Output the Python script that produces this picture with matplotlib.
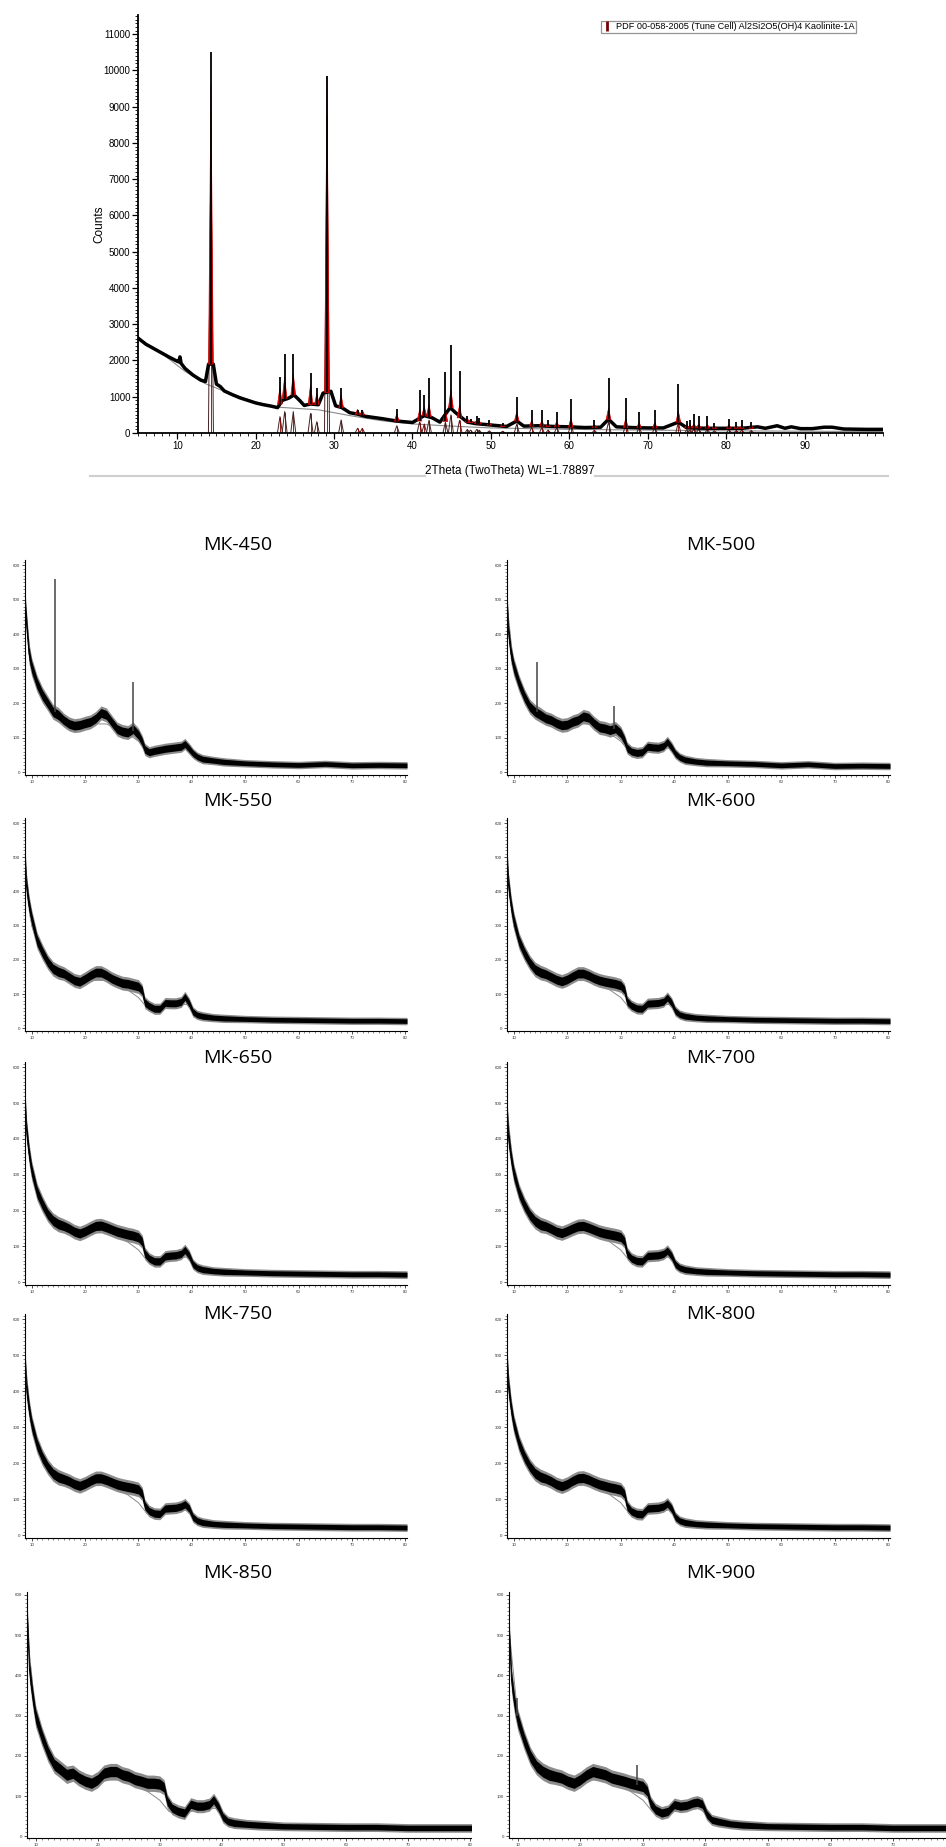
import numpy as np
import matplotlib
matplotlib.use("Agg")
import matplotlib.pyplot as plt
from matplotlib.collections import PolyCollection
from matplotlib.lines import Line2D
from matplotlib.ticker import MultipleLocator

plt.rcParams['font.family'] = ['Liberation Sans', 'DejaVu Sans']

# ---------------- data: top XRD pattern (raw kaolin) ----------------
obs_x = [5, 6, 7, 8, 9, 10, 10.2, 10.35, 10.5, 11, 12, 13, 13.6, 14.0, 14.6, 15, 15.5, 16, 17, 18,
         19, 20, 21, 22, 22.8, 23.4, 24.2, 24.9, 25.6, 26.2, 27, 28, 28.6, 29.6, 30.2, 31, 32, 33, 34, 36,
         38, 40, 41.5, 42.5, 43.5, 44.8, 45.5, 46.3, 47, 48, 50, 52, 53.3, 54.2, 56, 58, 60, 62, 64, 65,
         66, 68, 70, 72, 73.9, 75, 78, 82, 84, 85, 86.5, 87.5, 88.3, 89.5, 91, 92.5, 93.5, 95, 98, 100]
obs_y = [2620, 2450, 2330, 2210, 2090, 1980, 1960, 2100, 1920, 1780, 1600, 1460, 1420, 1900, 1900, 1350, 1280, 1160, 1060, 970,
         900, 830, 780, 740, 700, 900, 960, 1050, 900, 760, 800, 780, 1100, 1150, 750, 700, 560, 520, 460, 400,
         330, 290, 480, 420, 300, 700, 560, 420, 300, 260, 220, 180, 330, 190, 200, 180, 170, 150, 160, 380,
         170, 150, 140, 140, 300, 140, 130, 130, 170, 130, 200, 130, 170, 120, 120, 160, 160, 110, 100, 100]
bg_x = [5, 8, 11, 13.5, 16, 20, 23, 28, 32, 36, 40, 45, 50, 60, 70, 80, 90, 100]
bg_y = [2620, 2200, 1700, 1370, 1150, 850, 710, 640, 480, 340, 250, 190, 140, 100, 80, 60, 50, 40]

kao_pos = [14.3, 23.1, 23.7, 24.8, 27.0, 27.8, 29.1, 30.9, 33.0, 33.6, 38.0, 40.9, 41.5, 42.1, 44.2,
           44.9, 46.0, 47.0, 47.4, 48.2, 48.5, 49.8, 51.5, 53.3, 55.2, 56.5, 57.3, 58.4, 60.2, 63.2,
           65.0, 67.2, 68.9, 70.9, 73.9, 75.0, 75.4, 75.9, 76.5, 77.6, 78.5, 80.35, 81.3, 82.0, 83.2]
obs_top = [10500, 1540, 2190, 2190, 1660, 1230, 9850, 1240, 640, 640, 660, 1180, 1040, 1530, 1670,
           2440, 1700, 480, 390, 470, 400, 350, 270, 1000, 630, 630, 360, 570, 930, 360,
           1530, 960, 580, 640, 1365, 330, 360, 530, 475, 460, 270, 385, 300, 350, 300]
obs_base = [1900, 800, 950, 1050, 790, 780, 1120, 700, 520, 500, 330, 330, 480, 450, 320,
            700, 420, 300, 290, 260, 250, 220, 180, 330, 190, 190, 180, 170, 160, 150,
            380, 150, 145, 140, 300, 140, 140, 140, 140, 135, 130, 130, 130, 130, 130]
kao_calc = [7700, 450, 590, 590, 540, 310, 8700, 360, 130, 130, 200, 300, 250, 350, 300,
            500, 350, 100, 80, 100, 80, 60, 50, 250, 150, 150, 80, 150, 250, 80,
            300, 250, 150, 150, 300, 80, 80, 120, 110, 100, 60, 100, 70, 80, 70]
top_yticks = list(range(0, 11001, 1000))
top_xticks = [10, 20, 30, 40, 50, 60, 70, 80, 90]
legend_label = 'PDF 00-058-2005 (Tune Cell) Al2Si2O5(OH)4 Kaolinite-1A'
top_xlabel = '2Theta (TwoTheta) WL=1.78897'
top_ylabel = 'Counts'

# ---------------- data: calcined samples (МК) ----------------
sx = [8.7, 9, 9.5, 10, 11, 12, 13, 14, 15, 16, 17, 18, 19, 20, 21, 22, 23, 24, 25, 26,
      27, 28, 29, 30, 30.7, 31.2, 32, 33, 34, 35, 36, 37, 38, 38.7, 39.5, 40.2, 41, 42, 44, 46,
      50, 55, 60, 65, 70, 75, 80.3]
noise_half = [25, 25, 22, 20, 18, 17, 16, 16, 16, 15, 15, 15, 15, 15, 15, 15, 15, 15, 15, 15,
              15, 15, 15, 15, 14, 13, 12, 12, 12, 12, 12, 12, 12, 12, 12, 11, 10, 10, 9, 9,
              8, 8, 8, 8, 8, 8, 8]
amorph_x = [8.7, 10, 12, 14, 16, 20, 24, 28, 30, 31.5, 33, 36, 39, 41, 44, 50, 60, 80.3]
amorph_y = [500, 300, 215, 170, 155, 140, 140, 112, 90, 62, 55, 65, 70, 42, 32, 26, 22, 20]

mk450 = [505, 440, 344, 305, 257, 224, 200, 175, 166, 151, 140, 135, 137, 142, 146, 156, 172, 166, 145, 125,
         118, 115, 125, 108, 88, 66, 58, 62, 65, 68, 70, 72, 74, 82, 68, 55, 45, 38, 34, 30,
         26, 23, 21, 24, 20, 21, 20]
mk500 = [520, 412, 344, 306, 257, 219, 190, 175, 166, 156, 151, 142, 136, 138, 146, 151, 162, 158, 142, 130,
         127, 122, 127, 113, 92, 70, 60, 56, 58, 74, 72, 71, 76, 88, 72, 54, 43, 36, 31, 28,
         26, 24, 20, 23, 18, 19, 18]
mk550 = [523, 421, 360, 320, 257, 223, 194, 174, 165, 160, 150, 140, 136, 145, 155, 163, 163, 155, 145, 138,
         132, 130, 126, 122, 110, 75, 65, 57, 57, 74, 73, 73, 77, 92, 73, 48, 39, 35, 31, 29,
         27, 25, 24, 23, 22, 22, 21]
mk600 = [520, 425, 360, 315, 255, 220, 192, 172, 163, 158, 150, 142, 137, 143, 152, 160, 160, 154, 146, 140,
         136, 133, 130, 125, 112, 78, 66, 58, 57, 72, 73, 74, 78, 90, 74, 50, 40, 35, 31, 29,
         27, 25, 24, 23, 22, 22, 21]
mk650 = [530, 430, 360, 312, 252, 218, 190, 172, 162, 157, 150, 141, 136, 142, 150, 157, 158, 153, 147, 141,
         137, 133, 130, 125, 113, 80, 66, 58, 58, 72, 74, 75, 79, 90, 74, 50, 40, 35, 31, 29,
         27, 25, 24, 23, 22, 22, 21]
mk700 = [500, 410, 350, 305, 250, 215, 188, 170, 160, 156, 149, 141, 137, 143, 150, 156, 157, 152, 146, 140,
         136, 133, 130, 126, 114, 80, 66, 59, 58, 73, 74, 75, 79, 88, 73, 50, 40, 35, 31, 29,
         27, 25, 24, 23, 22, 22, 21]
mk750 = [510, 415, 352, 308, 252, 216, 190, 171, 161, 156, 150, 142, 137, 143, 151, 158, 158, 153, 147, 141,
         137, 134, 131, 127, 115, 82, 67, 60, 59, 74, 75, 76, 80, 86, 74, 50, 40, 35, 31, 29,
         27, 25, 24, 23, 22, 22, 21]
mk800 = [515, 418, 355, 310, 254, 218, 191, 172, 162, 157, 150, 141, 136, 142, 151, 158, 159, 154, 147, 141,
         137, 133, 130, 126, 114, 80, 66, 59, 58, 74, 75, 76, 80, 88, 74, 50, 40, 35, 31, 29,
         27, 25, 24, 23, 22, 22, 21]
mk850 = [530, 414, 350, 298, 248, 207, 178, 166, 153, 157, 145, 137, 132, 141, 157, 161, 161, 153, 149, 141,
         137, 132, 132, 130, 122, 88, 70, 62, 58, 80, 75, 75, 79, 91, 72, 48, 37, 33, 30, 28,
         25, 24, 23, 23, 21, 21, 21]
mk900 = [492, 389, 330, 290, 240, 199, 174, 161, 153, 149, 145, 137, 132, 141, 153, 161, 157, 153, 145, 141,
         137, 132, 128, 124, 112, 83, 66, 58, 62, 79, 75, 77, 83, 85, 80, 55, 41, 37, 31, 28,
         25, 24, 23, 23, 21, 21, 21]

spike_pos = {'МК-450': [14.3, 28.9], 'МК-500': [14.3, 28.8], 'МК-900': [9.8, 29.0]}
spike_base = {'МК-450': [175, 120], 'МК-500': [175, 125], 'МК-900': [300, 128]}
spike_top = {'МК-450': [560, 262], 'МК-500': [318, 192], 'МК-900': [343, 178]}

sample_names = ['МК-450', 'МК-500', 'МК-550', 'МК-600', 'МК-650', 'МК-700', 'МК-750', 'МК-800', 'МК-850', 'МК-900']
sample_data = [mk450, mk500, mk550, mk600, mk650, mk700, mk750, mk800, mk850, mk900]
small_yticks = [0, 100, 200, 300, 400, 500, 600]
small_xticks = [10, 20, 30, 40, 50, 60, 70, 80]

# ---------------- figure ----------------
W, H = 946, 1847
fig = plt.figure(figsize=(W / 100, H / 100), dpi=100)


def rect(l, r, t, b):
    return [l / W, 1 - b / H, (r - l) / W, (b - t) / H]


# ---- top chart ----
ax = fig.add_axes(rect(138, 883, 15, 433))
ax.set_xlim(5, 100)
ax.set_ylim(0, 11530)
ax.plot(bg_x, bg_y, color='#8a8a8a', lw=0.8, zorder=2)
ax.plot(obs_x, obs_y, color='black', lw=2.5, zorder=3, solid_joinstyle='round')
red_verts = [[(p - 0.3, b), (p, b + c), (p + 0.3, b)] for p, b, c in zip(kao_pos, obs_base, kao_calc)]
ax.add_collection(PolyCollection(red_verts, facecolor='#d00000', edgecolor='#d00000', lw=0.5, zorder=4))
ax.vlines(kao_pos, obs_base, obs_top, color='black', lw=1.3, zorder=5)
calc_verts = [[(p - 0.32, 0), (p, c), (p + 0.32, 0)] for p, c in zip(kao_pos, kao_calc)]
ax.add_collection(PolyCollection(calc_verts, facecolor='none', edgecolor='#4a2222', lw=0.7, zorder=2, closed=False))
ax.vlines(kao_pos, 0, kao_calc, color='#7a0000', lw=0.6, zorder=2)

for s in ['top', 'right']:
    ax.spines[s].set_visible(False)
for s in ['left', 'bottom']:
    ax.spines[s].set_linewidth(1.3)
ax.set_yticks(top_yticks)
ax.set_xticks(top_xticks)
ax.yaxis.set_minor_locator(MultipleLocator(100))
ax.xaxis.set_minor_locator(MultipleLocator(1))
ax.tick_params(axis='both', which='major', labelsize=7, length=4, width=0.9, pad=1.5)
ax.tick_params(axis='both', which='minor', length=2, width=0.6)

handle = Line2D([], [], color='#7a0000', marker='|', ls='None', markersize=7, mew=2)
leg = ax.legend([handle], [legend_label], loc='upper left',
                bbox_to_anchor=(601 / W, 1 - 21 / H), bbox_transform=fig.transFigure,
                fontsize=6.6, frameon=True, fancybox=False, edgecolor='#7a7a7a',
                borderpad=0.15, handlelength=0.9, handletextpad=0.6, borderaxespad=0)
leg.get_frame().set_linewidth(0.9)

fig.text(510 / W, 1 - 471 / H, top_xlabel, ha='center', va='center', fontsize=8.5)
fig.text(99 / W, 1 - 224 / H, top_ylabel, ha='center', va='center', rotation=90, fontsize=8.5)
fig.add_artist(Line2D([90 / W, 425 / W], [1 - 476 / H] * 2, color='#cfcfcf', lw=1.5))
fig.add_artist(Line2D([595 / W, 888 / W], [1 - 476 / H] * 2, color='#cfcfcf', lw=1.5))

# ---- small panels ----
rows = [(560, 775), (818, 1031), (1062, 1285), (1314, 1538), (1592, 1838)]
title_y = [545, 801, 1058, 1314, 1573]
sx_arr = np.array(sx)
nh = np.array(noise_half)

for i, (name, vals) in enumerate(zip(sample_names, sample_data)):
    r, c = divmod(i, 2)
    t, b = rows[r]
    if r < 4:
        l, rr = (25, 407) if c == 0 else (507, 890)
        ylim = (-8, 615)
        xlim = (8.75, 80.3)
    else:
        l, rr = (27, 471) if c == 0 else (509, 957)
        ylim = (-4, 607)
        xlim = (8.6, 80.2)
    a = fig.add_axes(rect(l, rr, t, b))
    a.set_xlim(*xlim)
    a.set_ylim(*ylim)
    v = np.array(vals)
    a.fill_between(sx_arr, v - 1.35 * nh, v + 1.35 * nh, color='#8c8c8c', lw=0, zorder=2)
    a.fill_between(sx_arr, v - 0.85 * nh, v + 0.85 * nh, color='black', lw=0, zorder=3)
    a.plot(sx_arr, v, color='black', lw=0.7, zorder=4)
    a.plot(amorph_x, amorph_y, color='#8a8a8a', lw=0.7, zorder=1)
    if name in spike_pos:
        a.vlines(spike_pos[name], spike_base[name], spike_top[name], color='#444444', lw=1.1, zorder=5)
    for s in ['top', 'right']:
        a.spines[s].set_visible(False)
    for s in ['left', 'bottom']:
        a.spines[s].set_linewidth(0.8)
    a.set_yticks(small_yticks)
    a.set_xticks(small_xticks)
    a.yaxis.set_minor_locator(MultipleLocator(10))
    a.xaxis.set_minor_locator(MultipleLocator(1))
    a.tick_params(axis='both', which='major', labelsize=3.2, length=2.5, width=0.6, pad=1, colors='#333333')
    a.tick_params(axis='both', which='minor', length=1.2, width=0.5, colors='#555555')
    tx = 238 if c == 0 else 721
    fig.text(tx / W, 1 - title_y[r] / H, name, ha='center', va='center', fontsize=14,
             family=['Open Sans', 'DejaVu Sans'])

fig.savefig('out.png', dpi=100)
